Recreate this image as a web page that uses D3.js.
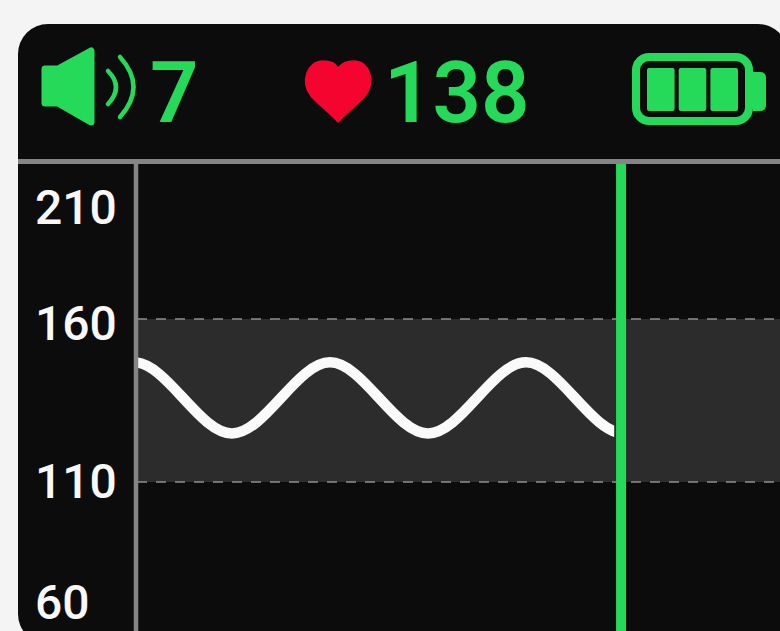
<!DOCTYPE html>
<html>
<head>
<meta charset="utf-8">
<script src="https://cdn.jsdelivr.net/npm/d3@7"></script>
<style>
  html, body { margin: 0; padding: 0; background: #f4f4f4; overflow: hidden; }
  text { font-family: Roboto, sans-serif; }
</style>
</head>
<body>
<div id="chart"></div>
<script>
// values
const yTicks = [210, 160, 110, 60];
const bandLimits = [110, 160];
const times = [-0.5, 0, 0.5, 1, 1.5, 2, 2.5, 3, 3.5, 4, 4.5, 5, 5.5];
const rates = [135.8, 146.7, 135.8, 124.9, 135.8, 146.7, 135.8, 124.9, 135.8, 146.7, 135.8, 124.9, 135.8];
const traceEnd = 4.9; // trace stops just short of the sweep line
const sweepTime = 4.97;
const volume = 7;
const heartRate = 138;
const batteryCells = ["a", "b", "c"];

const width = 780;
const height = 631;
const green = "#26da59";
const grey = "#858585";

const svg = d3.select("#chart").append("svg")
  .attr("width", width)
  .attr("height", height)
  .style("display", "block");

// dark panel runs off the right and bottom of the window
svg.append("rect")
  .attr("x", 18).attr("y", 24)
  .attr("width", 770).attr("height", 620)
  .attr("rx", 30)
  .attr("fill", "#0c0c0c");

// 98px per time unit, 163px per 50 units of rate
const x = d3.scaleLinear().domain([0, 6.6]).range([134, 134 + 98 * 6.6]);
const y = d3.scaleLinear().domain([60, 210]).range([645, 156]);

// normal range band
svg.append("rect")
  .attr("x", 137)
  .attr("y", y(bandLimits[1]))
  .attr("width", width - 137)
  .attr("height", y(bandLimits[0]) - y(bandLimits[1]))
  .attr("fill", "#2c2c2c");

svg.selectAll(".limit")
  .data(bandLimits)
  .enter()
  .append("line")
  .attr("class", "limit")
  .attr("x1", 137).attr("x2", width)
  .attr("y1", (d) => y(d)).attr("y2", (d) => y(d))
  .attr("stroke", "#8f8f8f")
  .attr("stroke-width", 1.6)
  .attr("stroke-dasharray", "10 9");

// wave
svg.append("clipPath")
  .attr("id", "trace-clip")
  .append("rect")
  .attr("x", 137).attr("y", 164)
  .attr("width", x(traceEnd) - 137)
  .attr("height", height - 164);

const line = d3.line()
  .x((d, i) => x(times[i]))
  .y((d) => y(d))
  .curve(d3.curveNatural);

svg.append("path")
  .attr("d", line(rates))
  .attr("clip-path", "url(#trace-clip)")
  .attr("fill", "none")
  .attr("stroke", "#fafafa")
  .attr("stroke-width", 10.5);

// sweep line
svg.append("line")
  .attr("x1", x(sweepTime)).attr("x2", x(sweepTime))
  .attr("y1", 163).attr("y2", height)
  .attr("stroke", green)
  .attr("stroke-width", 10);

// rules
svg.append("line")
  .attr("x1", 136).attr("x2", 136)
  .attr("y1", 162).attr("y2", height)
  .attr("stroke", grey)
  .attr("stroke-width", 4.5);

svg.append("line")
  .attr("x1", 18).attr("x2", width)
  .attr("y1", 161.5).attr("y2", 161.5)
  .attr("stroke", grey)
  .attr("stroke-width", 5);

// tick labels do not sit on their values in the reference
const labelNudge = { 210: 50, 160: 3, 110: -2, 60: -44 };

const yAxis = svg.append("g")
  .attr("transform", "translate(136,0)")
  .call(d3.axisLeft(y).tickValues(yTicks).tickSize(0).tickFormat(d3.format("d")));

yAxis.select(".domain").remove();
yAxis.selectAll("text")
  .attr("x", -101)
  .attr("dy", "0.36em")
  .attr("transform", (d) => `translate(0,${labelNudge[d]})`)
  .style("text-anchor", "start")
  .style("font-family", "Roboto, sans-serif")
  .style("font-size", "48px")
  .style("font-weight", 500)
  .attr("fill", "#f8f8f8");

// header: speaker
const speaker = svg.append("g");
speaker.append("path")
  .attr("d", "M45 69 L58 69 L91 51 L91 122 L58 103 L45 103 Z")
  .attr("fill", green)
  .attr("stroke", green)
  .attr("stroke-width", 7)
  .attr("stroke-linejoin", "round");
speaker.append("path")
  .attr("d", "M108 71 Q124 87 108 104")
  .attr("fill", "none")
  .attr("stroke", green)
  .attr("stroke-width", 4.5)
  .attr("stroke-linecap", "round");
speaker.append("path")
  .attr("d", "M120 57 Q147 87 120 117")
  .attr("fill", "none")
  .attr("stroke", green)
  .attr("stroke-width", 4.5)
  .attr("stroke-linecap", "round");

svg.append("text")
  .attr("x", 150).attr("y", 122)
  .attr("fill", green)
  .style("font-size", "85px")
  .style("font-weight", 600)
  .text(volume);

// header: heart
svg.append("path")
  .attr("d", "M338 122 C330 113 318 104 311 96 C300 82 307 61 323 61 C331 61 336 64 338 68 C341 64 346 61 354 61 C370 61 376 82 365 96 C358 104 346 113 338 122 Z")
  .attr("fill", "#f5042f")
  .attr("stroke", "#f5042f")
  .attr("stroke-width", 1.5)
  .attr("stroke-linejoin", "round");

svg.append("text")
  .attr("x", 384).attr("y", 122)
  .attr("fill", green)
  .style("font-size", "85px")
  .style("font-weight", 600)
  .text(heartRate);

// header: battery
svg.append("rect")
  .attr("x", 636).attr("y", 57)
  .attr("width", 113).attr("height", 64)
  .attr("rx", 13)
  .attr("fill", "none")
  .attr("stroke", green)
  .attr("stroke-width", 8);

svg.append("path")
  .attr("d", "M753 72 L760 72 Q766 72 766 78 L766 105 Q766 111 760 111 L753 111 Z")
  .attr("fill", green);

const cellX = d3.scaleBand().domain(batteryCells).range([647, 738]).paddingInner(0.13);
svg.selectAll(".cell")
  .data(batteryCells)
  .enter()
  .append("rect")
  .attr("class", "cell")
  .attr("x", (d) => cellX(d))
  .attr("y", 68)
  .attr("width", cellX.bandwidth())
  .attr("height", 43)
  .attr("rx", 2)
  .attr("fill", green);
</script>
</body>
</html>
